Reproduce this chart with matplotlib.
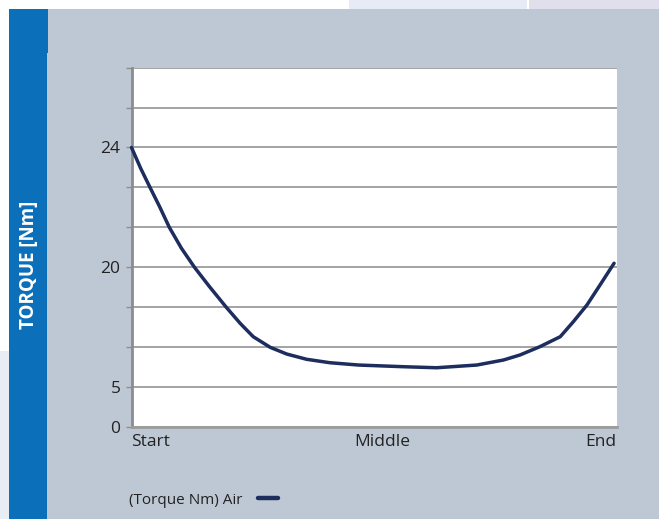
import numpy as np
import matplotlib
matplotlib.use("Agg")
import matplotlib.pyplot as plt
from matplotlib.patches import Rectangle

plt.rcParams['font.family'] = ['Open Sans', 'DejaVu Sans']

# -------------------------------
# DATA
# -------------------------------
# stroke position (0 = start, 1 = end) and torque
stroke = [0.0, 0.019, 0.038, 0.058, 0.078, 0.103, 0.130, 0.161, 0.195,
          0.224, 0.251, 0.286, 0.320, 0.361, 0.409, 0.468, 0.560, 0.629,
          0.712, 0.767, 0.801, 0.842, 0.884, 0.911, 0.939, 0.966, 0.995]
torque = [24.0, 23.30, 22.67, 22.02, 21.33, 20.63, 19.97, 17.54, 15.0,
          12.96, 11.28, 9.95, 9.11, 8.45, 8.02, 7.73, 7.52, 7.39,
          7.73, 8.36, 8.99, 10.03, 11.28, 13.16, 15.25, 17.76, 20.13]

# the y axis is not linear: labelled values sit on these grid rows
tick_values = [0, 5, 20, 24]
tick_rows = [0, 1, 4, 7]
n_rows = 9

x_labels = ["Start", "Middle", "End"]
x_label_pos = [0.0, 0.516, 1.0]

series_name = "(Torque Nm) Air"
y_title = "TORQUE [Nm]"

# -------------------------------
# FIGURE + BACKGROUND
# -------------------------------
W, H = 659, 519
fig = plt.figure(figsize=(W / 100, H / 100), dpi=100)
fig.patch.set_facecolor("white")


def px_rect(x0, y0, x1, y1, color):
    # rectangle in pixel coords (y from the top)
    fig.patches.append(Rectangle((x0 / W, 1 - y1 / H), (x1 - x0) / W, (y1 - y0) / H,
                                 transform=fig.transFigure, color=color, zorder=-10, lw=0))


px_rect(0, 351, 9, H, "#e8ecf5")
px_rect(349, 0, 527, 9, "#e6ebf6")
px_rect(529, 0, W, 9, "#e0dfeb")
px_rect(47, 9, W, H, "#bec8d4")
px_rect(9, 9, 47, H, "#0b6fba")
px_rect(9, 9, 48, 53, "#0b6fba")

fig.text(29 / W, 1 - 265 / H, y_title, rotation=90, color="white", fontsize=13.5,
         fontweight="bold", ha="center", va="center")

# -------------------------------
# PLOT
# -------------------------------
left, right, top, bottom = 131.5, 616.5, 67.7, 426.7
ax = fig.add_axes([left / W, 1 - bottom / H, (right - left) / W, (bottom - top) / H])
ax.set_facecolor("white")

rows = np.interp(torque, tick_values, tick_rows)
line, = ax.plot(stroke, rows, color="#1c2d5e", lw=2.5, solid_capstyle="round",
                solid_joinstyle="round", label=series_name, zorder=3, clip_on=False)

ax.set_xlim(0, 1)
ax.set_ylim(0, n_rows)

ax.set_yticks(range(n_rows + 1))
ax.set_yticklabels([str(tick_values[tick_rows.index(r)]) if r in tick_rows else ""
                    for r in range(n_rows + 1)])
ax.yaxis.grid(True, color="#9c9c9c", lw=1.3)
ax.set_axisbelow(True)
ax.tick_params(axis="y", length=4, width=1, color="#8c8c8c", pad=4,
               labelsize=12.5, labelcolor="#222222")

ax.set_xticks(x_label_pos)
ax.set_xticklabels(x_labels)
ax.tick_params(axis="x", length=0, pad=5, labelsize=12.5, labelcolor="#222222")
tl = ax.get_xticklabels()
tl[0].set_ha("left")
tl[2].set_ha("right")

for s in ["top", "right"]:
    ax.spines[s].set_visible(False)
ax.spines["left"].set_color("#8c8c8c")
ax.spines["left"].set_linewidth(2)
ax.spines["bottom"].set_color("#9c9c9c")
ax.spines["bottom"].set_linewidth(2)

leg = ax.legend(loc="center left", bbox_to_anchor=(129 / W, 1 - 500 / H),
                bbox_transform=fig.transFigure, frameon=False, markerfirst=False,
                fontsize=11, handlelength=1.3, handletextpad=1.0,
                borderpad=0, borderaxespad=0, labelcolor="#222222")
for h in leg.get_lines():
    h.set_linewidth(3.2)
    h.set_solid_capstyle("round")

fig.savefig("out.png", dpi=100)
